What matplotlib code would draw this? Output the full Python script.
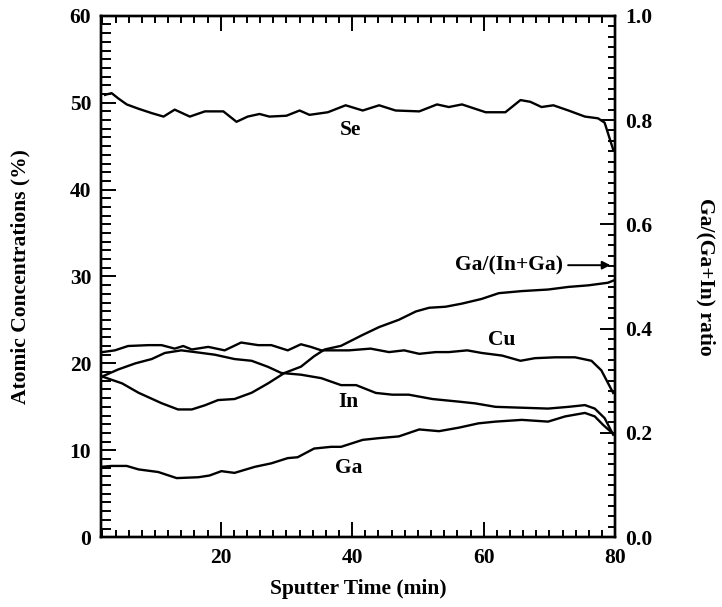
import matplotlib
matplotlib.use("Agg")
import matplotlib.pyplot as plt
from matplotlib.ticker import MultipleLocator

plt.rcParams["font.family"] = ["Liberation Serif", "DejaVu Serif"]
plt.rcParams["font.weight"] = "bold"

# sputter time (min) and atomic concentrations (%)
se_t = [2.4, 3.4, 4.4, 5.7, 7.5, 9.5, 11.3, 13.0, 15.3, 17.6, 20.4, 22.4, 24.1, 25.9,
        27.4, 30.0, 32.0, 33.5, 36.3, 39.0, 41.6, 44.1, 46.6, 50.2, 52.9, 54.7, 56.7,
        60.3, 63.3, 65.6, 67.1, 68.8, 70.6, 72.9, 75.4, 77.4, 78.4, 79.7]
se_v = [50.9, 51.1, 50.5, 49.8, 49.3, 48.8, 48.4, 49.2, 48.4, 49.0, 49.0, 47.8, 48.4, 48.7,
        48.4, 48.5, 49.1, 48.6, 48.9, 49.7, 49.1, 49.7, 49.1, 49.0, 49.8, 49.5, 49.8,
        48.9, 48.9, 50.3, 50.1, 49.5, 49.7, 49.1, 48.4, 48.2, 47.7, 44.6]

cu_t = [2.0, 3.9, 5.9, 9.0, 11.0, 13.0, 14.3, 15.6, 18.1, 20.6, 23.1, 25.7, 27.7, 30.2,
        32.2, 33.7, 35.3, 37.3, 39.5, 42.8, 45.6, 47.9, 50.2, 52.7, 54.7, 57.5, 59.7,
        62.8, 65.6, 67.8, 70.9, 73.9, 76.4, 77.9, 79.7]
cu_v = [21.3, 21.5, 22.0, 22.1, 22.1, 21.7, 22.0, 21.6, 21.9, 21.5, 22.4, 22.1, 22.1, 21.5,
        22.2, 21.9, 21.5, 21.5, 21.5, 21.7, 21.3, 21.5, 21.1, 21.3, 21.3, 21.5, 21.2,
        20.9, 20.3, 20.6, 20.7, 20.7, 20.3, 19.2, 16.6]

in_t = [2.0, 4.4, 7.0, 9.5, 11.5, 14.0, 16.1, 19.1, 22.1, 24.7, 27.2, 29.2, 32.2, 35.3,
        38.3, 40.6, 43.6, 46.1, 48.6, 52.2, 56.2, 58.7, 61.8, 65.8, 69.8, 72.9, 75.4,
        76.9, 78.4, 79.7]
in_v = [18.5, 19.3, 20.0, 20.5, 21.2, 21.5, 21.3, 21.0, 20.5, 20.3, 19.6, 18.9, 18.7, 18.3,
        17.5, 17.5, 16.6, 16.4, 16.4, 15.9, 15.6, 15.4, 15.0, 14.9, 14.8, 15.0, 15.2,
        14.8, 13.7, 11.8]

ga_t = [1.9, 3.4, 5.7, 7.5, 10.5, 13.3, 16.6, 18.3, 20.1, 22.1, 25.2, 27.7, 30.2, 31.7,
        34.2, 36.8, 38.3, 41.6, 44.1, 47.1, 50.2, 53.2, 56.2, 59.2, 61.8, 65.8, 69.8,
        72.4, 75.4, 76.9, 78.2, 79.7]
ga_v = [8.1, 8.2, 8.2, 7.8, 7.5, 6.8, 6.9, 7.1, 7.6, 7.4, 8.1, 8.5, 9.1, 9.2,
        10.2, 10.4, 10.4, 11.2, 11.4, 11.6, 12.4, 12.2, 12.6, 13.1, 13.3, 13.5, 13.3,
        13.9, 14.3, 13.9, 12.9, 11.9]

# Ga/(In+Ga) ratio (right axis)
ratio_t = [2.0, 5.0, 7.5, 11.0, 13.5, 15.6, 17.6, 19.6, 22.1, 24.7, 27.2, 29.7, 32.2, 34.2,
           35.8, 38.3, 41.6, 44.1, 47.1, 49.7, 51.7, 54.2, 56.7, 59.7, 62.3, 65.8, 69.8,
           72.9, 75.9, 78.9, 79.7]
ratio_v = [0.308, 0.295, 0.277, 0.257, 0.245, 0.245, 0.253, 0.263, 0.265, 0.277, 0.295,
           0.315, 0.327, 0.347, 0.360, 0.367, 0.388, 0.403, 0.417, 0.433, 0.440, 0.442,
           0.448, 0.457, 0.468, 0.472, 0.475, 0.480, 0.483, 0.488, 0.492]

FS = 15.5

fig = plt.figure(figsize=(7.22, 6.07), dpi=100)
ax = fig.add_axes([0.140, 0.115, 0.712, 0.859])
ax2 = ax.twinx()

lw = 1.7
for t, v in [(se_t, se_v), (cu_t, cu_v), (in_t, in_v), (ga_t, ga_v)]:
    ax.plot(t, v, color="black", lw=lw)
ax2.plot(ratio_t, ratio_v, color="black", lw=lw)

ax.set_xlim(1.8, 80)
ax.set_ylim(0, 60)
ax2.set_ylim(0, 1.0)

ax.xaxis.set_major_locator(MultipleLocator(20))
ax.xaxis.set_minor_locator(MultipleLocator(2))
ax.yaxis.set_major_locator(MultipleLocator(10))
ax.yaxis.set_minor_locator(MultipleLocator(1))
ax2.yaxis.set_major_locator(MultipleLocator(0.2))
ax2.yaxis.set_minor_locator(MultipleLocator(0.02))
ax2.yaxis.set_major_formatter(lambda v, p: f"{v:.1f}")

ax.tick_params(axis="x", which="both", direction="in", top=True, bottom=True,
               labelsize=FS, pad=8, width=1.4)
ax.tick_params(axis="y", which="both", direction="in", left=True, right=False,
               labelsize=FS, pad=7, width=1.4)
ax.tick_params(which="major", length=11)
ax.tick_params(axis="x", which="minor", length=5)
ax.tick_params(axis="y", which="minor", length=7)
ax2.tick_params(axis="y", which="both", direction="in", labelsize=FS, pad=7, width=1.4)
ax2.tick_params(which="major", length=11)
ax2.tick_params(which="minor", length=5)
for a in (ax, ax2):
    for s in a.spines.values():
        s.set_linewidth(1.7)

ax.set_xlabel("Sputter Time (min)", fontsize=FS, fontweight="bold", labelpad=8)
ax.set_ylabel("Atomic Concentrations (%)", fontsize=FS, fontweight="bold", labelpad=28)
ax2.set_ylabel("Ga/(Ga+In) ratio", fontsize=FS, fontweight="bold", rotation=270,
               labelpad=46)

txt = dict(fontsize=FS, fontweight="bold", ha="center", va="center")
ax.text(39.8, 46.9, "Se", **txt)
ax.text(62.7, 22.7, "Cu", **txt)
ax.text(39.5, 15.5, "In", **txt)
ax.text(39.4, 8.0, "Ga", **txt)
ax.annotate("Ga/(In+Ga)", xy=(79.3, 31.3), xytext=(72.0, 31.3),
            fontsize=FS, fontweight="bold", ha="right", va="center",
            arrowprops=dict(arrowstyle="-|>", color="black", lw=1.4,
                            shrinkA=2, shrinkB=0, mutation_scale=12))

fig.savefig("out.png", dpi=100)
